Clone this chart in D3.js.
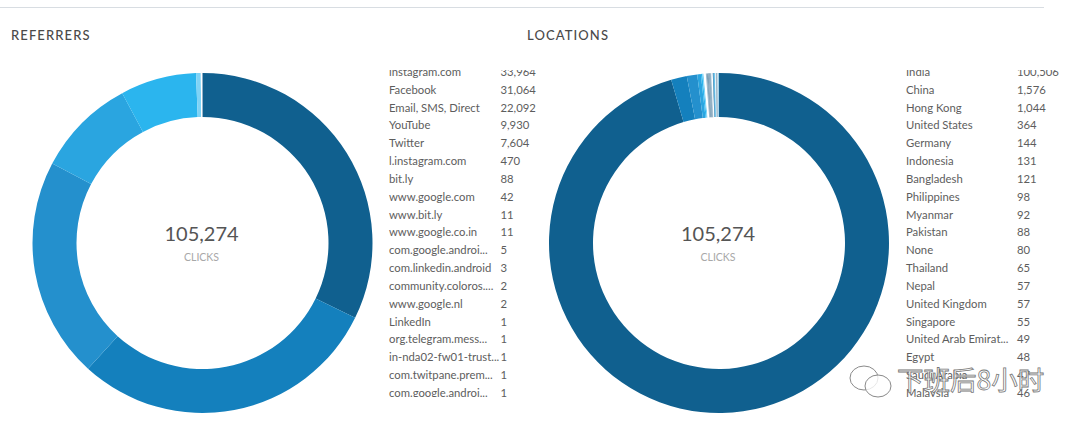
<!DOCTYPE html>
<html>
<head>
<meta charset="utf-8">
<script src="https://d3js.org/d3.v7.min.js"></script>
<style>
  html, body { margin: 0; padding: 0; background: #fff; }
  text { font-family: Lato, "Open Sans", sans-serif; }
  .title { font-size: 13px; fill: #4a4a4a; letter-spacing: 1.1px; font-weight: 500; }
  .total { font-size: 20px; fill: #555; text-anchor: middle; }
  .unit { font-size: 10.5px; fill: #a8a8a8; text-anchor: middle; }
  .row { font-size: 11.3px; fill: #5d5d5d; }
</style>
</head>
<body>
<div id="chart"></div>
<script>
var svgWidth = 1080;
var svgHeight = 430;

// Data
var referrerNames = ["instagram.com", "Facebook", "Email, SMS, Direct", "YouTube", "Twitter", "l.instagram.com", "bit.ly", "www.google.com", "www.bit.ly", "www.google.co.in", "com.google.androi...", "com.linkedin.android", "community.coloros....", "www.google.nl", "LinkedIn", "org.telegram.mess...", "in-nda02-fw01-trust...", "com.twitpane.prem...", "com.google.androi..."];
var referrerValues = [33964, 31064, 22092, 9930, 7604, 470, 88, 42, 11, 11, 5, 3, 2, 2, 1, 1, 1, 1, 1];

var locationNames = ["India", "China", "Hong Kong", "United States", "Germany", "Indonesia", "Bangladesh", "Philippines", "Myanmar", "Pakistan", "None", "Thailand", "Nepal", "United Kingdom", "Singapore", "United Arab Emirat...", "Egypt", "Saudi Arabia", "Malaysia"];
var locationValues = [100506, 1576, 1044, 364, 144, 131, 121, 98, 92, 88, 80, 65, 57, 57, 55, 49, 48, 47, 46];
// rows scrolled out of the list, estimated so the ring still closes
var locationHidden = [45, 42, 40, 38, 36, 34, 32, 30, 28, 26, 25, 24, 22, 20, 19, 18, 17, 16, 15, 14, 13, 12, 11, 10, 9, 8, 7, 5];

var totalClicks = "105,274";
var sliceColors = ["#10608f", "#1480bd", "#2490cd", "#2aa5e0", "#2bb5ee", "#7fd3f6", "#ffffff", "#ffffff", "#9ab8cc", "#6d93ad", "#5f8aa6", "#7a9db5", "#5f8aa6", "#6d93ad", "#7a9db5", "#9ab8cc", "#e6f3fa", "#ffffff", "#ffffff"];

var svg = d3.select("#chart")
  .append("svg")
  .attr("width", svgWidth)
  .attr("height", svgHeight)
  .style("display", "block");

// Top rule
svg.append("line")
  .attr("x1", 0).attr("x2", 1044)
  .attr("y1", 7.5).attr("y2", 7.5)
  .attr("stroke", "#d8dde2");

var color = d3.scaleOrdinal().range(sliceColors);
var pie = d3.pie().sort(null);
var arc = d3.arc().innerRadius(126).outerRadius(170);

// Rows are placed on a shared scale, first row sits half cut by the clip
var rowY = d3.scaleLinear().domain([0, 18]).range([72, 393]);

svg.append("defs").append("clipPath")
  .attr("id", "listClip")
  .append("rect")
  .attr("x", 0).attr("y", 70)
  .attr("width", svgWidth).attr("height", 327);

function drawPanel(opts) {
  var g = svg.append("g");

  g.append("text")
    .attr("class", "title")
    .attr("x", opts.titleX)
    .attr("y", 39.5)
    .text(opts.title);

  var ring = g.append("g")
    .attr("transform", `translate(${opts.cx}, 243)`);

  var c = color.copy().domain(d3.range(opts.slices.length));

  ring.selectAll("path")
    .data(pie(opts.slices))
    .enter()
    .append("path")
    .attr("d", arc)
    .attr("fill", (d, i) => c(i));

  ring.append("text")
    .attr("class", "total")
    .attr("x", -1)
    .attr("y", -2)
    .text(totalClicks);

  ring.append("text")
    .attr("class", "unit")
    .attr("x", -1)
    .attr("y", 18)
    .text("CLICKS");

  var list = g.append("g").attr("clip-path", "url(#listClip)");

  list.selectAll("text.name")
    .data(opts.names)
    .enter()
    .append("text")
    .attr("class", "row name")
    .attr("x", opts.nameX)
    .attr("y", (d, i) => rowY(i))
    .attr("dy", "0.35em")
    .text(d => d);

  list.selectAll("text.value")
    .data(opts.values)
    .enter()
    .append("text")
    .attr("class", "row value")
    .attr("x", opts.valueX)
    .attr("y", (d, i) => rowY(i))
    .attr("dy", "0.35em")
    .text(d => d3.format(",")(d));
}

drawPanel({
  title: "REFERRERS", titleX: 11, cx: 202.5,
  names: referrerNames, values: referrerValues, slices: referrerValues,
  nameX: 389, valueX: 500.5
});

drawPanel({
  title: "LOCATIONS", titleX: 527, cx: 719,
  names: locationNames, values: locationValues, slices: locationValues.concat(locationHidden),
  nameX: 906, valueX: 1017
});

// Watermark
var mark = svg.append("g").attr("fill", "#fff").attr("fill-opacity", 0.8).attr("stroke", "#8a8a8a").attr("stroke-width", 1);
mark.append("ellipse").attr("cx", 864).attr("cy", 378).attr("rx", 14).attr("ry", 12);
mark.append("ellipse").attr("cx", 878).attr("cy", 386).attr("rx", 13).attr("ry", 11);
svg.append("text")
  .attr("x", 897).attr("y", 390)
  .attr("font-size", 26.5)
  .style("font-family", "'Noto Sans CJK SC'")
  .attr("fill", "#fff")
  .attr("fill-opacity", 0.75)
  .attr("stroke", "#777")
  .attr("stroke-width", 0.8)
  .text("下班后8小时");
</script>
</body>
</html>
